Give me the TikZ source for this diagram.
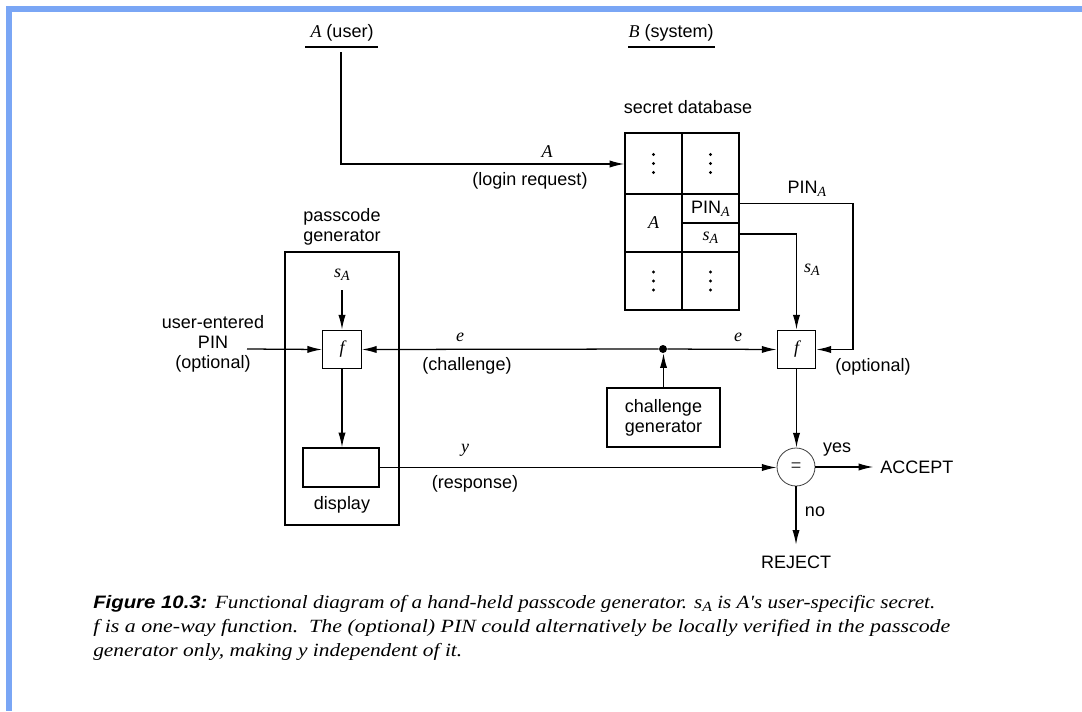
\documentclass[tikz,border=0pt]{standalone}
\usepackage{fontspec}
\usepackage{graphicx}
\setmainfont{Liberation Sans}
\newfontfamily\serif{Liberation Serif}
\usetikzlibrary{arrows.meta,calc}
\definecolor{frameblue}{RGB}{122,166,245}
\newcommand\mi[1]{{\serif\itshape #1}}
\newcommand\sbs[1]{\raisebox{-0.35ex}{\fontsize{10.5}{12}\selectfont\mi{#1}}}
\newcommand\capfont{\serif\itshape\fontsize{14}{16}\selectfont}
\begin{document}
\begin{tikzpicture}[x=0.75pt,y=-0.75pt,
  every node/.style={font=\fontsize{13.5}{15}\selectfont, inner sep=0pt},
  line/.style={line width=0.95pt},
  arr/.style={line, -{Latex[length=11pt,width=5.4pt]}},
  box/.style={draw, line width=0.95pt},
  fbox/.style={box, minimum width=29pt, minimum height=29pt},
  cellw/.style={box, minimum width=42.75pt},
  vdot/.style={circle, fill, minimum size=2.4pt},
]
% page and frame
\useasboundingbox (0,0) rectangle (1082,711);
\fill[white] (0,0) rectangle (1082,711);
\fill[frameblue] (6,6) rectangle (1082,11.5);
\fill[frameblue] (6,6) rectangle (11.5,711);

% parties
\node (userlbl) at (342,33) {\mi{A} (user)};
\draw[line width=2pt] (305,47) -- (378,47);
\node (syslbl) at (671,33) {\mi{B} (system)};
\draw[line width=2pt] (628,47) -- (715,47);

% secret database
\node (dblbl) at (688,107) {secret database};
\node[cellw, minimum height=45.75pt] (c11) at (653.5,163.5) {};
\node[cellw, minimum height=45.75pt] (c12) at (710.5,163.5) {};
\node[cellw, minimum height=43.5pt] (c21) at (653.5,223) {\mi{A}};
\node[cellw, minimum height=21.75pt] (pin) at (710.5,208.5) {PIN\sbs{A}};
\node[cellw, minimum height=21.75pt] (sa) at (710.5,237.5) {\mi{s}\sbs{A}};
\node[cellw, minimum height=43.5pt] (c31) at (653.5,281) {};
\node[cellw, minimum height=43.5pt] (c32) at (710.5,281) {};
% vertical ellipses in the unused rows
\foreach \c in {c11,c12,c31,c32}
  \foreach \d in {-9,0,9}
    \node[vdot] at ($(\c.center)+(0,\d)$) {};

% login request
\coordinate (ustart) at (341,52);
\draw[arr] (ustart) |- (c11.west |- 0,164);
\node (loginA) at (547,152) {\mi{A}};
\node (loginlbl) at (530,181) {(login request)};

% passcode generator
\node[align=center] (pglbl) at (342,227) {passcode\\generator};
\node[box, minimum width=85.5pt, minimum height=204.75pt] (pg) at (342,388.5) {};
\node (sAin) at (342,275) {\mi{s}\sbs{A}};
\coordinate (sinc) at (342,290);
\node[fbox] (fL) at (342,349.5) {\mi{f}};
\node[box, minimum width=57pt, minimum height=29.25pt] (disp) at (341,467.5) {};
\node (displbl) at (342,505) {display};
\draw[arr] (sinc) -- (fL.north);
\draw[arr] (fL.south) -- (fL.south |- disp.north);

\node[align=center] (upin) at (213,344) {user-entered\\PIN\\(optional)};
\coordinate (upinc) at (247,349);
\draw[arr] (upinc) -- (fL.west);

% verifier side
\node[fbox] (fR) at (796.5,349.5) {\mi{f}};
\node[circle, fill, minimum size=6pt] (dot) at (663,349) {};
\node[box, minimum width=84.75pt, minimum height=44.25pt, align=center] (cg) at (663.5,417.5) {challenge\\generator};
\node[circle, draw=black!75, line width=0.6pt, minimum size=28.5pt] (eq) at (796,467) {\textcolor{black!75}{=}};

\draw[arr] (dot) -- (fR.west);
\draw[arr] (dot) -- (fL.east);
\draw[arr] (cg.north) -- (cg.north |- dot.south);
\draw[arr] ([yshift=2.6pt]sa.east) -| (fR.north);
\coordinate (pinc) at (853,300);
\draw[arr] ([yshift=4pt]pin.east) -| (pinc) |- (fR.east);
\draw[arr] (fR.south) -- (fR.south |- eq.north);
\draw[arr] (disp.east) -- (disp.east -| eq.west);

\node[anchor=west] (acc) at (880,467) {ACCEPT};
\node (rej) at (796,562) {REJECT};
\draw[arr] (eq.east) -- ([xshift=-5pt]acc.west);
\draw[arr] (eq.south) -- ([yshift=8pt]rej.north);

% labels
\node (pinlbl) at (807,189) {PIN\sbs{A}};
\node (salbl) at (812,270) {\mi{s}\sbs{A}};
\node (eL) at (460,337) {\mi{e}};
\node (chlbl) at (467,366) {(challenge)};
\node (eR) at (738,337) {\mi{e}};
\node (optlbl) at (873,367) {(optional)};
\node (ylbl) at (465,450) {\mi{y}};
\node (resplbl) at (475,484) {(response)};
\node (yeslbl) at (837,450) {yes};
\node (nolbl) at (815,512) {no};

% caption
\node[anchor=base west] (cap1) at (93,608) {\resizebox{631.5pt}{\height}{{\bfseries\itshape\fontsize{13.5}{15}\selectfont Figure 10.3:} \capfont Functional diagram of a hand-held passcode generator. \mi{s}\sbs{A} is \mi{A}'s user-specific secret.}};
\node[anchor=base west] (cap2) at (93,632) {\resizebox{642.75pt}{\height}{\capfont f is a one-way function.\ \ The (optional) PIN could alternatively be locally verified in the passcode}};
\node[anchor=base west] (cap3) at (93,656) {\resizebox{276.75pt}{\height}{\capfont generator only, making y independent of it.}};
\end{tikzpicture}
\end{document}
